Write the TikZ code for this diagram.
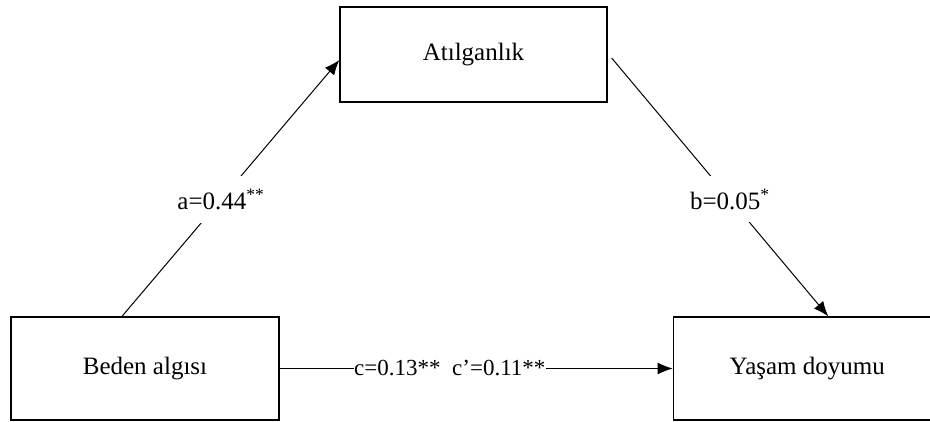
\documentclass[tikz,border=0pt]{standalone}
\usepackage{fontspec}
\setmainfont{Liberation Serif}
\usepackage{tikz}
\usetikzlibrary{arrows.meta, positioning, calc}
\tikzstyle{box} = [rectangle, minimum width=268pt, minimum height=103pt, text centered, draw=black, line width=1.3pt]
\tikzstyle{coef} = [fill=white, inner xsep=1pt, inner ysep=13pt]
\tikzstyle{arrow} = [line width=1pt, ->, >={Latex[length=15pt,width=12pt]}]

\begin{document}
\begin{tikzpicture}[x=1pt, y=1pt, font=\fontsize{25}{29}\selectfont]
			\clip (0,0) rectangle (930,421);
			
			\node (beden) [box] at (145,52.5) {Beden algısı};
			
			\node (yasam) [box, right=393pt of beden] {Yaşam doyumu};
			
			\node (atil) [box, minimum width=267pt, minimum height=95pt] at (473.5,366.5) {Atılganlık};
			
			\draw [arrow] ([xshift=-23pt]beden.north) -- node[coef, pos=0.455] {a=0.44\textsuperscript{**}} ([yshift=-5.5pt]atil.west);
			\draw [arrow] ([xshift=4pt,yshift=-3.5pt]atil.east) -- node[coef, pos=0.546] {b=0.05\textsuperscript{*}} ([xshift=21pt]yasam.north);
			\draw [arrow] (beden.east) -- node[coef, pos=0.433, inner xsep=0.5pt, inner ysep=2pt, font=\fontsize{23}{27}\selectfont] {c=0.13**\ \ c’=0.11**} (yasam.west);
			\end{tikzpicture}
\end{document}
